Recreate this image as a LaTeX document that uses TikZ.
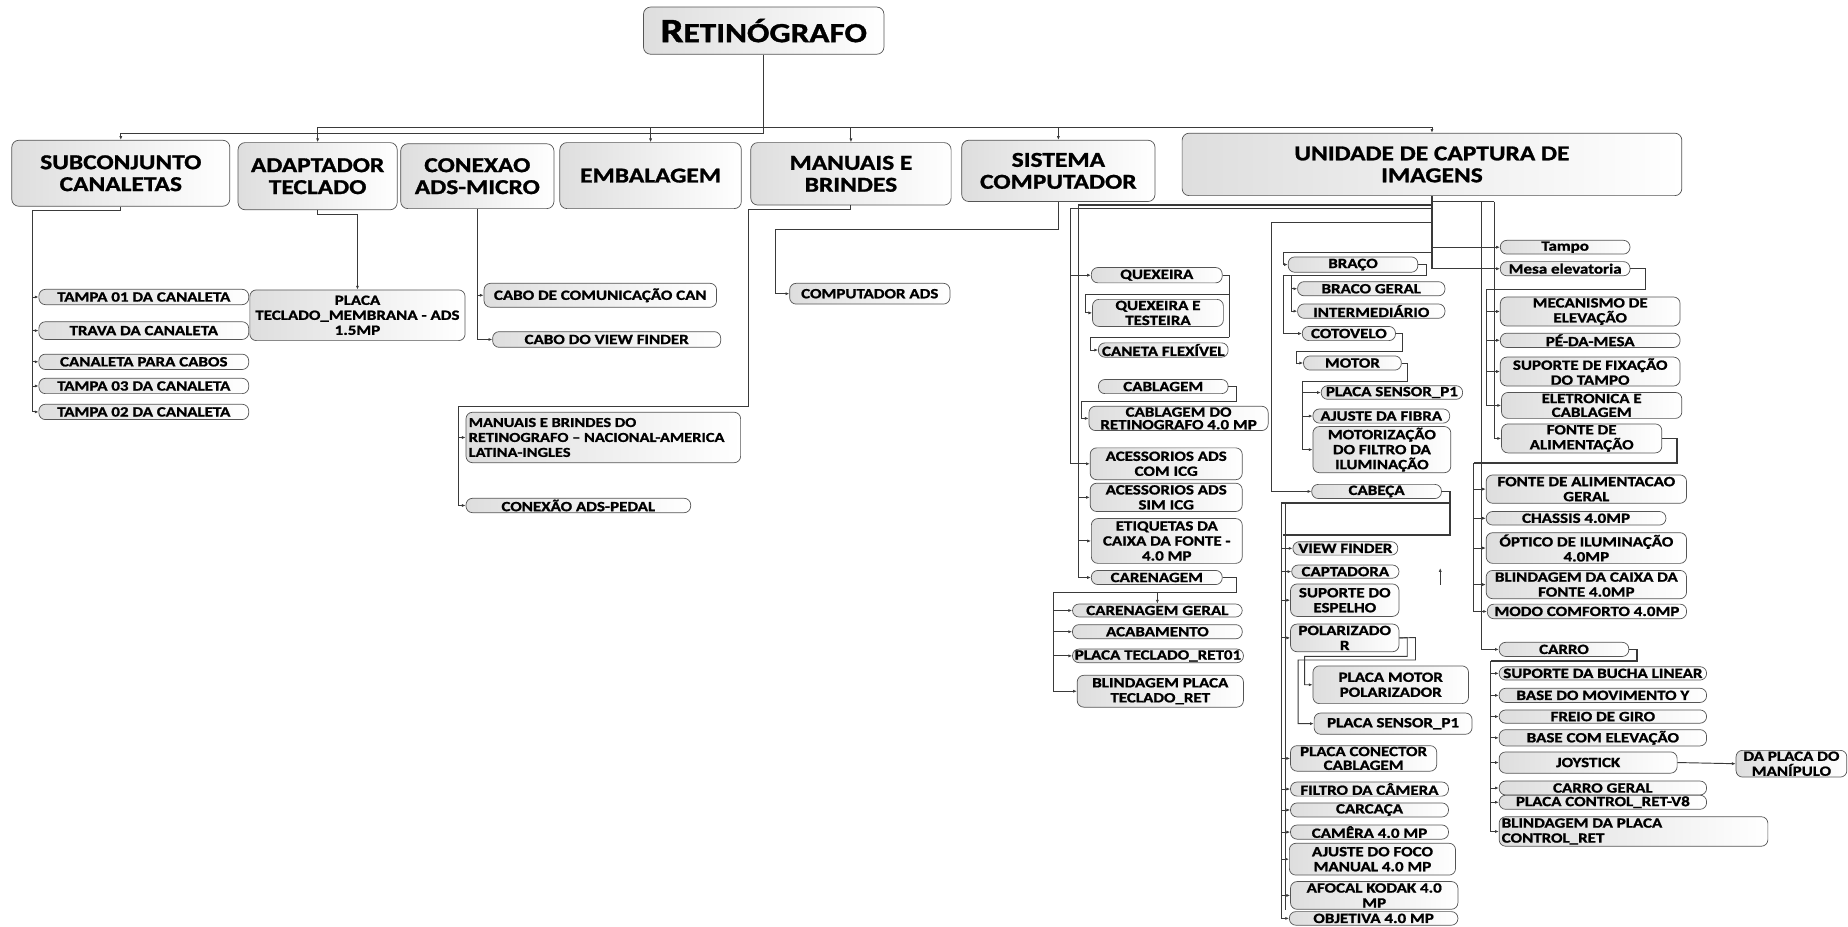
\documentclass[tikz,border=0pt]{standalone}
\usepackage{fontspec}
\usetikzlibrary{arrows.meta}
\newfontfamily\nf[FakeStretch=1.2, BoldFeatures={FakeBold=1.2}]{Carlito}
\definecolor{linec}{HTML}{3A3A3A}
\definecolor{edgec}{HTML}{555555}
\tikzset{
  base/.style={draw=edgec, line width=0.6pt, left color=gray!26, right color=white,
    inner sep=1pt, align=center, text=black},
  pill/.style={base, rounded corners=5.5pt, font={\nf\bfseries\fontsize{12}{12.7}\selectfont}},
  tbox/.style={base, rounded corners=6pt, font={\nf\bfseries\fontsize{18}{18.6}\selectfont}},
  ttl/.style={base, rounded corners=6pt},
  wire/.style={draw=linec, line width=0.8pt},
  heavy/.style={draw=linec, line width=1.5pt},
  arr/.style={wire, -{Latex[length=3.2pt,width=2.6pt]}}
}
% place a node from its box corners: style, name, left, top, right, bottom, text
\newcommand\boxnode[7]{\node[#1, minimum width={#5-#3}, minimum height={#6-#4}] (#2) at ({(#3+#5)/2},{(#4+#6)/2}) {#7};}
\begin{document}
\begin{tikzpicture}[x=1pt,y=-1pt]
\fill[white] (0,0) rectangle (1568,786);
\useasboundingbox (0,0) rectangle (1568,786);

% ---------- root and first level ----------
\boxnode{ttl}{title}{546}{6}{750}{46}{{\nf\bfseries\fontsize{29}{30}\selectfont R}{\nf\bfseries\fontsize{23.5}{25}\selectfont ETINÓGRAFO}}
\boxnode{tbox}{subc}{10}{119}{195}{175}{SUBCONJUNTO\\CANALETAS}
\boxnode{tbox}{adapt}{202}{121}{337}{178}{ADAPTADOR\\TECLADO}
\boxnode{tbox}{conex}{340}{122}{470}{177}{CONEXAO\\ADS-MICRO}
\boxnode{tbox}{embal}{475}{121}{629}{177}{EMBALAGEM}
\boxnode{tbox}{manu}{637}{121}{807}{174}{MANUAIS E\\BRINDES}
\boxnode{tbox}{sist}{816}{119}{980}{171}{SISTEMA\\COMPUTADOR}
\boxnode{tbox}{unid}{1003}{113}{1427}{166}{UNIDADE DE CAPTURA DE\\IMAGENS}

\coordinate (busA) at (648,108);
\coordinate (busB) at (648,113);
\draw[wire] (title.south) -- (busB);
\draw[wire] (subc.north |- busB) -- (busB);
\draw[wire] (adapt.north |- busA) -- (unid.north |- busA);
\draw[arr] (subc.north |- busB) -- (subc.north);
\foreach \n in {adapt,embal,manu,sist,unid} \draw[arr] (\n.north |- busA) -- (\n.north);

% ---------- SUBCONJUNTO CANALETAS ----------
\boxnode{pill}{t01}{33}{245.5}{211}{258.5}{TAMPA 01 DA CANALETA}
\boxnode{pill}{trava}{33}{273}{211}{288}{TRAVA DA CANALETA}
\boxnode{pill}{canal}{33}{300.5}{211}{313.5}{CANALETA PARA CABOS}
\boxnode{pill}{t03}{33}{321}{211}{334}{TAMPA 03 DA CANALETA}
\boxnode{pill}{t02}{33}{343}{211}{356}{TAMPA 02 DA CANALETA}
\coordinate (sx) at (27.4,179);
\draw[arr] (subc.south) |- (sx) |- (t02.west);
\foreach \n in {t01,trava,canal,t03} \draw[arr] (\n.west -| sx) -- (\n.west);

% ---------- ADAPTADOR TECLADO ----------
\boxnode{pill}{placa}{212}{246}{394.6}{289}{PLACA\\TECLADO\_MEMBRANA - ADS\\1.5MP}
\draw[arr] (adapt.south) -- ++(0,3.5) -| (placa.north);

% ---------- CONEXAO ADS-MICRO ----------
\boxnode{pill}{ccan}{410.7}{240.4}{608}{260.7}{CABO DE COMUNICAÇÃO CAN}
\boxnode{pill}{cvf}{418}{281.4}{611.5}{294.7}{CABO DO VIEW FINDER}
\draw[arr] (conex.south) |- (cvf.west);
\draw[arr] (ccan.west -| conex.south) -- (ccan.west);

% ---------- MANUAIS E BRINDES ----------
\boxnode{pill}{manual}{395.4}{349.8}{628.4}{392.6}{}
\node[font={\nf\bfseries\fontsize{11.6}{12.7}\selectfont}, align=left, anchor=west, inner sep=0pt] (manualtxt) at (397.5,371.2)
  {MANUAIS E BRINDES DO\\RETINOGRAFO – NACIONAL-AMERICA\\LATINA-INGLES};
\boxnode{pill}{pedal}{395.4}{422.8}{586}{435}{CONEXÃO ADS-PEDAL}
\coordinate (mx) at (389,345);
\draw[arr] (manu.south) -- ++(0,3.6) -| (635,345) -- (mx) |- (pedal.west);
\draw[arr] (manual.west -| mx) -- (manual.west);

% ---------- SISTEMA COMPUTADOR ----------
\boxnode{pill}{comp}{670}{240.4}{806}{258}{COMPUTADOR ADS}
\draw[arr] (sist.south) |- (658,195) |- (comp.west);

% ---------- UNIDADE DE CAPTURA: left group ----------
\boxnode{pill}{quex}{926}{227}{1037}{240}{QUEXEIRA}
\boxnode{pill}{qtest}{927}{254}{1038}{277}{QUEXEIRA E\\TESTEIRA}
\boxnode{pill}{caneta}{932}{291}{1042}{303}{CANETA FLEXÍVEL}
\boxnode{pill}{cablag}{932}{322}{1042}{334}{CABLAGEM}
\boxnode{pill}{cabret}{924}{346}{1076}{364}{CABLAGEM DO\\[-2pt]RETINOGRAFO 4.0 MP}
\boxnode{pill}{acom}{925}{380}{1054}{407}{ACESSORIOS ADS\\COM ICG}
\boxnode{pill}{asim}{925}{410}{1054}{434}{ACESSORIOS ADS\\SIM ICG}
\boxnode{pill}{etiq}{926}{440}{1054}{478}{ETIQUETAS DA\\CAIXA DA FONTE -\\4.0 MP}
\boxnode{pill}{caren}{926}{484}{1037}{496}{CARENAGEM}
\boxnode{pill}{carg}{910}{512.5}{1054}{523.5}{CARENAGEM GERAL}
\boxnode{pill}{acab}{910}{530}{1054}{542}{ACABAMENTO}
\boxnode{pill}{pltec}{910}{551}{1055}{562}{PLACA TECLADO\_RET01}
\boxnode{pill}{blpl}{914}{573}{1055}{600}{BLINDAGEM PLACA\\TECLADO\_RET}

\draw[heavy] (unid.south) -- (1215,228);
\coordinate (lv1) at (908,176.6);
\coordinate (lv2) at (915,174);
\draw[wire] (unid.south |- lv1) -- (lv1);
\draw[heavy] (unid.south |- lv2) -- (lv2);
\draw[arr] (lv1) |- (acom.west);
\draw[arr] (lv2) |- (caren.west);
\draw[arr] (quex.west -| lv1) -- (quex.west);
\foreach \n in {asim,etiq} \draw[arr] (\n.west -| lv2) -- (\n.west);
\draw[wire] (quex.east) -- (1043,233.5) -- (1043,286);
\draw[arr] (1043,250) -- (921,250) |- (qtest.west);
\draw[arr] (1043,286) -- (925,286) |- (caneta.west);
\draw[arr] (cablag.east) -- (1049,328) |- (918,341) |- (cabret.west);
\coordinate (cv) at (894,503);
\draw[arr] (caren.east) -- (1049,490) |- (cv) |- (blpl.west);
\foreach \n in {carg,acab,pltec} \draw[arr] (\n.west -| cv) -- (\n.west);
\draw[arr] (carg.north |- cv) -- (carg.north);

% ---------- UNIDADE DE CAPTURA: BRAÇO and CABEÇA ----------
\boxnode{pill}{braco}{1093}{218}{1203}{231}{BRAÇO}
\boxnode{pill}{brg}{1101}{239}{1226}{251}{BRACO GERAL}
\boxnode{pill}{inter}{1101}{258}{1226}{270}{INTERMEDIÁRIO}
\boxnode{pill}{coto}{1105}{277}{1184}{289}{COTOVELO}
\boxnode{pill}{motor}{1106}{302}{1189}{314}{MOTOR}
\boxnode{pill}{ps1}{1121}{327.5}{1241}{338.6}{PLACA SENSOR\_P1}
\boxnode{pill}{ajf}{1114}{347}{1230}{359}{AJUSTE DA FIBRA}
\boxnode{pill}{motz}{1114}{362}{1231}{401}{MOTORIZAÇÃO\\DO FILTRO DA\\ILUMINAÇÃO}
\boxnode{pill}{cabeca}{1113}{411}{1223}{423}{CABEÇA}

\draw[arr] (unid.south |- 0,189) -- (1079,189) |- (cabeca.west);
\draw[arr] (unid.south |- 0,214) -- (1089,214) |- (braco.west);
\coordinate (bv) at (1096,234);
\draw[arr] (braco.east) -- (1210,224.5) |- (1089,234) |- (coto.west);
\draw[arr] (bv) |- (inter.west);
\draw[arr] (brg.west -| bv) -- (brg.west);
\draw[arr] (coto.east) -- (1190,283) |- (1100,298) |- (motor.west);
\coordinate (mv) at (1105,324);
\draw[arr] (motor.east) -- (1194,308) |- (mv) |- (motz.west);
\foreach \n in {ps1,ajf} \draw[arr] (\n.west -| mv) -- (\n.west);

% ---------- CABEÇA children ----------
\boxnode{pill}{vf}{1097}{459.6}{1186}{471}{VIEW FINDER}
\boxnode{pill}{capt}{1096}{479.4}{1187}{490.6}{CAPTADORA}
\boxnode{pill}{sesp}{1095}{495.5}{1187}{523}{SUPORTE DO\\ESPELHO}
\boxnode{pill}{pol}{1095}{529.5}{1187}{553}{POLARIZADO\\R}
\boxnode{pill}{pmp}{1114}{565}{1246}{597}{PLACA MOTOR\\POLARIZADOR}
\boxnode{pill}{ps2}{1115}{605}{1249}{623}{PLACA SENSOR\_P1}
\boxnode{pill}{pcc}{1095}{633.5}{1219}{653.5}{PLACA CONECTOR\\[-1pt]CABLAGEM}
\boxnode{pill}{fcam}{1095}{663.6}{1229}{675.4}{FILTRO DA CÂMERA}
\boxnode{pill}{carc}{1095}{681.5}{1229}{693}{CARCAÇA}
\boxnode{pill}{cam}{1095}{700}{1229}{712}{CAMÊRA 4.0 MP}
\boxnode{pill}{ajfoco}{1094}{715.5}{1235}{742.5}{AJUSTE DO FOCO\\MANUAL 4.0 MP}
\boxnode{pill}{afocal}{1095}{748}{1237}{771.5}{AFOCAL KODAK 4.0\\MP}
\boxnode{pill}{obj}{1094}{773.5}{1237}{785}{OBJETIVA 4.0 MP}

\coordinate (hv) at (1087,427);
\draw[heavy] (cabeca.east) -- (1230,417) -- (1230,454) -- (1089,454);
\draw[heavy] (1230,427) -- (hv);
\draw[arr] (hv) |- (obj.west);
\draw[wire] (1091,427) -- (1091,772);
\foreach \n in {vf,capt,sesp,pol,pcc,fcam,carc,cam,ajfoco,afocal} \draw[arr] (\n.west -| hv) -- (\n.west);
\draw[arr] (pol.east) -- (1194,541) |- (1107,557) |- (pmp.west);
\draw[arr] (pol.east) -- (1201,541) |- (1101.5,560) |- (ps2.west);
\coordinate (s0) at (1222,496);
\coordinate (s1) at (1222,482);
\draw[arr] (s0) -- (s1);

% ---------- UNIDADE DE CAPTURA: right group ----------
\boxnode{pill}{tampo}{1273}{204}{1383}{215.5}{Tampo}
\boxnode{pill}{mesa}{1273}{222}{1383}{234}{Mesa elevatoria}
\boxnode{pill}{mec}{1273}{252}{1425.5}{276.6}{MECANISMO DE\\ELEVAÇÃO}
\boxnode{pill}{pe}{1273}{283}{1425.5}{294.5}{PÉ-DA-MESA}
\boxnode{pill}{supf}{1273}{303}{1425.5}{327.5}{SUPORTE DE FIXAÇÃO\\DO TAMPO}
\boxnode{pill}{elet}{1274}{333}{1427}{355}{ELETRONICA E\\[-1pt]CABLAGEM}
\boxnode{pill}{fonte}{1274}{360}{1410}{384}{FONTE DE\\ALIMENTAÇÃO}
\boxnode{pill}{fag}{1261}{403}{1431}{427}{FONTE DE ALIMENTACAO\\GERAL}
\boxnode{pill}{chas}{1261}{434}{1413.5}{445.5}{CHASSIS 4.0MP}
\boxnode{pill}{opt}{1261}{452}{1431}{478}{ÓPTICO DE ILUMINAÇÃO\\4.0MP}
\boxnode{pill}{blcx}{1261}{484}{1431}{508}{BLINDAGEM DA CAIXA DA\\FONTE 4.0MP}
\boxnode{pill}{modo}{1262}{512.6}{1431}{525}{MODO COMFORTO 4.0MP}
\boxnode{pill}{carro}{1272}{545}{1382}{557}{CARRO}
\boxnode{pill}{sbl}{1272}{565.7}{1448}{577}{SUPORTE DA BUCHA LINEAR}
\boxnode{pill}{bmy}{1272}{584}{1448}{596}{BASE DO MOVIMENTO Y}
\boxnode{pill}{frg}{1272}{602.4}{1448}{613.6}{FREIO DE GIRO}
\boxnode{pill}{bce}{1272}{620}{1448}{632}{BASE COM ELEVAÇÃO}
\boxnode{pill}{joy}{1272}{638}{1423}{656}{JOYSTICK}
\boxnode{pill}{dapl}{1473}{637}{1567}{659}{DA PLACA DO\\MANÍPULO}
\boxnode{pill}{cgr}{1272}{662.7}{1448}{674.5}{CARRO GERAL}
\boxnode{pill}{pcr}{1272}{675}{1448}{686.4}{PLACA CONTROL\_RET-V8}
\boxnode{pill}{blcr}{1272}{693}{1500}{718}{}
\node[font={\nf\bfseries\fontsize{12}{12.7}\selectfont}, align=left, anchor=west, inner sep=0pt] (blcrtxt) at (1274,705.5)
  {BLINDAGEM DA PLACA\\CONTROL\_RET};

\coordinate (rv1) at (1267.6,171);
\coordinate (rv2) at (1256.6,171);
\draw[wire] (unid.south |- rv1) -- (rv1);
\draw[arr] (rv1) |- (fonte.west);
\draw[arr] (rv2) |- (carro.west);
\draw[arr] (tampo.west -| unid.south) -- (tampo.west);
\draw[arr] (mesa.west -| unid.south) -- (mesa.west);
\coordinate (ev) at (1261,245.5);
\draw[arr] (mesa.east) -- (1396,228) |- (ev) |- (elet.west);
\foreach \n in {mec,pe,supf} \draw[arr] (\n.west -| ev) -- (\n.west);
\coordinate (fv) at (1250.6,393);
\draw[heavy] (fonte.east) -- (1423,372) |- (fv);
\draw[arr] (fv) |- (modo.west);
\foreach \n in {fag,chas,opt,blcx} \draw[arr] (\n.west -| fv) -- (\n.west);
\coordinate (kv) at (1265,561);
\draw[heavy] (carro.east) -- (1389,551) |- (kv);
\draw[arr] (kv) |- (blcr.west);
\foreach \n in {sbl,bmy,frg,bce,joy,cgr,pcr} \draw[arr] (\n.west -| kv) -- (\n.west);
\draw[arr] (joy.east) -- (dapl.west);
\end{tikzpicture}
\end{document}
